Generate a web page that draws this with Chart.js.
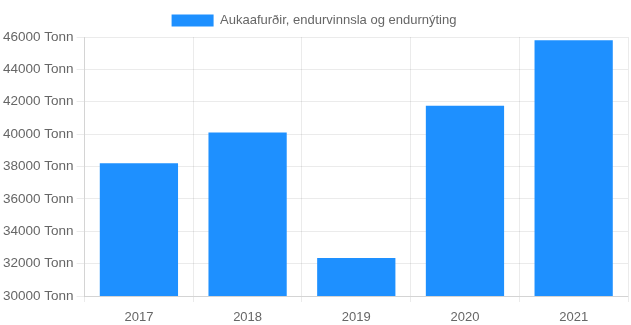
<!DOCTYPE html>
<html>
<head>
<meta charset="utf-8">
<script src="https://cdn.jsdelivr.net/npm/chart.js@4"></script>
<style>
  html, body { margin: 0; padding: 0; background: #fff; }
  #wrap { width: 631px; height: 325px; }
</style>
</head>
<body>
<div id="wrap"><canvas id="wasteChart"></canvas></div>
<script>
const years = ['2017', '2018', '2019', '2020', '2021'];
const tonnes = [38200, 40100, 32350, 41750, 45800];
const seriesLabel = 'Aukaafurðir, endurvinnsla og endurnýting';
const yMin = 30000;
const yMax = 46000;
const yStep = 2000;

Chart.defaults.font.family = "'Liberation Sans', Arial, sans-serif";
Chart.defaults.font.size = 13;
Chart.defaults.color = '#666';

new Chart(document.getElementById('wasteChart'), {
  type: 'bar',
  data: {
    labels: years,
    datasets: [{
      label: seriesLabel,
      data: tonnes,
      backgroundColor: 'rgb(30, 144, 255)',
      borderWidth: 0
    }]
  },
  options: {
    responsive: true,
    maintainAspectRatio: false,
    animation: false,
    layout: { padding: { right: 3, bottom: -8, top: 2 } },
    plugins: {
      legend: {
        labels: { boxWidth: 42, boxHeight: 12, padding: 12 }
      },
      tooltip: { enabled: false }
    },
    scales: {
      x: {
        grid: { color: 'rgba(0,0,0,0.08)', offset: true, tickLength: 6 },
        ticks: { padding: 9, font: { lineHeight: 1 } }
      },
      y: {
        min: yMin,
        max: yMax,
        ticks: {
          stepSize: yStep,
          padding: 3,
          font: { size: 13.5 },
          callback: v => v + ' Tonn'
        },
        grid: { color: 'rgba(0,0,0,0.08)' }
      }
    }
  }
});
</script>
</body>
</html>
